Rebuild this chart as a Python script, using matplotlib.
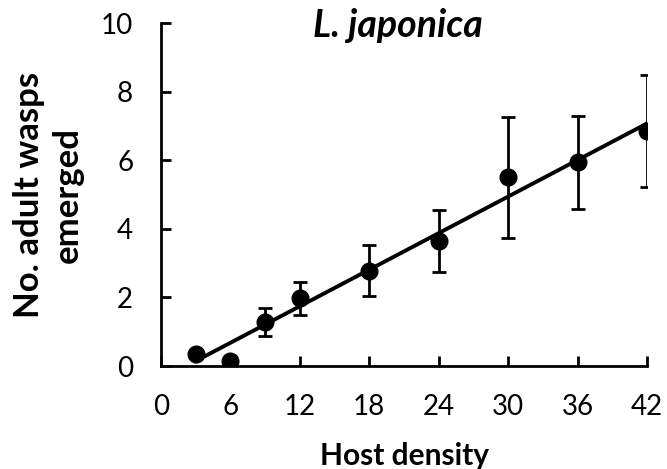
import numpy as np
import matplotlib
matplotlib.use("Agg")
import matplotlib.pyplot as plt

plt.rcParams['font.family'] = ['Lato', 'DejaVu Sans']

host_density = [3, 6, 9, 12, 18, 24, 30, 36, 42]
wasps_mean = [0.35, 0.15, 1.29, 1.97, 2.78, 3.64, 5.50, 5.94, 6.85]
wasps_err = [0.10, 0.0, 0.41, 0.47, 0.75, 0.91, 1.77, 1.35, 1.62]
x_ticks = [0, 6, 12, 18, 24, 30, 36, 42]
y_ticks = [0, 2, 4, 6, 8, 10]

fig = plt.figure(figsize=(6.67, 4.69), dpi=100)
ax = fig.add_axes([161/667, 1-366/469, (647-161)/667, (366-23)/469])

ax.errorbar(host_density, wasps_mean, yerr=wasps_err, fmt='o', color='black',
            markersize=12, ecolor='black', elinewidth=2, capsize=5, capthick=2, zorder=3)

slope, intercept = np.polyfit(host_density, wasps_mean, 1)
xf = np.array([min(host_density), max(host_density)])
ax.plot(xf, slope * xf + intercept, color='black', lw=2.8, zorder=2)

ax.set_xlim(0, 42)
ax.set_ylim(0, 10)
ax.set_xticks(x_ticks)
ax.set_yticks(y_ticks)
ax.tick_params(axis='both', direction='in', length=7, width=2, labelsize=20)
ax.tick_params(axis='x', pad=20)
ax.tick_params(axis='y', pad=20)
for s in ['top', 'right']:
    ax.spines[s].set_visible(False)
for s in ['left', 'bottom']:
    ax.spines[s].set_linewidth(2)

ax.set_xlabel('Host density', fontsize=21.5, fontweight='bold', labelpad=16)
ax.set_ylabel('No. adult wasps\nemerged', fontsize=25, fontweight='bold', labelpad=12,
              linespacing=1.3)
ax.text(0.487, 0.993, 'L. japonica', transform=ax.transAxes, ha='center', va='center',
        fontsize=27, fontweight='bold', fontstyle='italic')

fig.savefig('out.png', dpi=100)
